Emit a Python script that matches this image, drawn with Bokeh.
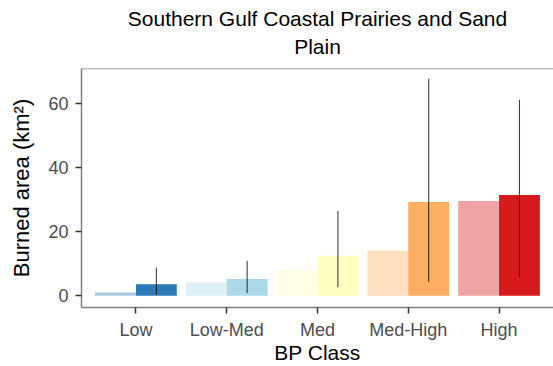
from bokeh.plotting import figure
from bokeh.models import Range1d, FixedTicker, ColumnDataSource, Span, Title
from bokeh.embed import file_html
from bokeh.resources import INLINE

title_lines = ["Southern Gulf Coastal Prairies and Sand", "Plain"]
x_title = "BP Class"
y_title = "Burned area (km²)"
classes = ["Low", "Low-Med", "Med", "Med-High", "High"]
left_vals = [1.0, 4.1, 8.1, 14.0, 29.6]
right_vals = [3.6, 5.2, 12.5, 29.3, 31.5]
err_lo = [0.3, 0.8, 2.6, 4.3, 6.0]
err_hi = [8.8, 10.9, 26.5, 67.8, 61.2]
colors = ["#2C7BB6", "#ABD9E9", "#FFFFBF", "#FDAE61", "#D7191C"]
yticks = [0, 20, 40, 60]

xs = list(range(1, len(classes) + 1))
bw = 0.45
YMIN, YMAX = -3.7, 71.0
XMIN, XMAX = 0.4, 5.6

src = ColumnDataSource(dict(
    xl=[x - bw / 2 for x in xs], xr=[x + bw / 2 for x in xs],
    lv=left_vals, rv=right_vals, lo=err_lo, hi=err_hi, c=colors))

FONT = "Liberation Sans"

p = figure(width=553, height=366, output_backend="svg", toolbar_location=None,
           x_range=Range1d(XMIN, XMAX), y_range=Range1d(YMIN, YMAX),
           min_border_left=81, min_border_right=0, min_border_top=68, min_border_bottom=58,
           title=None)

p.vbar(x="xl", width=bw, top="lv", bottom=0, source=src, fill_color="c",
       fill_alpha=0.4, line_color=None)
p.vbar(x="xr", width=bw, top="rv", bottom=0, source=src, fill_color="c",
       fill_alpha=1.0, line_color=None)
p.segment(x0="xr", x1="xr", y0="lo", y1="hi", source=src, line_color="black",
          line_alpha=0.75, line_width=1.1)

p.add_layout(Title(text=title_lines[1], align="center", text_font=FONT,
                   text_font_size="21px", text_font_style="normal",
                   text_color="black", text_line_height=0.9, standoff=22), "above")
p.add_layout(Title(text=title_lines[0], align="center",
                   text_font=FONT, text_font_size="21px", text_font_style="normal",
                   text_color="black", text_line_height=0.9, standoff=-16), "above")

p.xgrid.visible = False
p.ygrid.visible = False
p.outline_line_color = None
p.add_layout(Span(location=YMAX, dimension="width", line_color="#7F7F7F", line_width=1.5))

p.xaxis.ticker = FixedTicker(ticks=xs)
p.xaxis.major_label_overrides = {x: c for x, c in zip(xs, classes)}
p.yaxis.ticker = FixedTicker(ticks=yticks)

for ax in (p.xaxis, p.yaxis):
    ax.axis_line_color = "#7F7F7F"
    ax.axis_line_width = 1.5
    ax.major_tick_line_color = "#333333"
    ax.major_tick_line_width = 1.5
    ax.major_tick_out = 6
    ax.major_tick_in = 0
    ax.minor_tick_line_color = None
    ax.major_label_text_font = FONT
    ax.major_label_text_font_size = "18px"
    ax.major_label_text_color = "#4D4D4D"
    ax.major_label_text_line_height = 0.9
    ax.axis_label_text_font = FONT
    ax.axis_label_text_font_size = "21px"
    ax.axis_label_text_font_style = "normal"
    ax.axis_label_text_color = "black"
    ax.axis_label_text_line_height = 0.9

p.yaxis.axis_label_text_font_size = "22px"
p.xaxis.axis_label = x_title
p.yaxis.axis_label = y_title
p.xaxis.major_label_standoff = 6
p.yaxis.major_label_standoff = 7
p.xaxis.axis_label_standoff = -2
p.yaxis.axis_label_standoff = 11

open("out.html", "w").write(file_html(p, INLINE))
